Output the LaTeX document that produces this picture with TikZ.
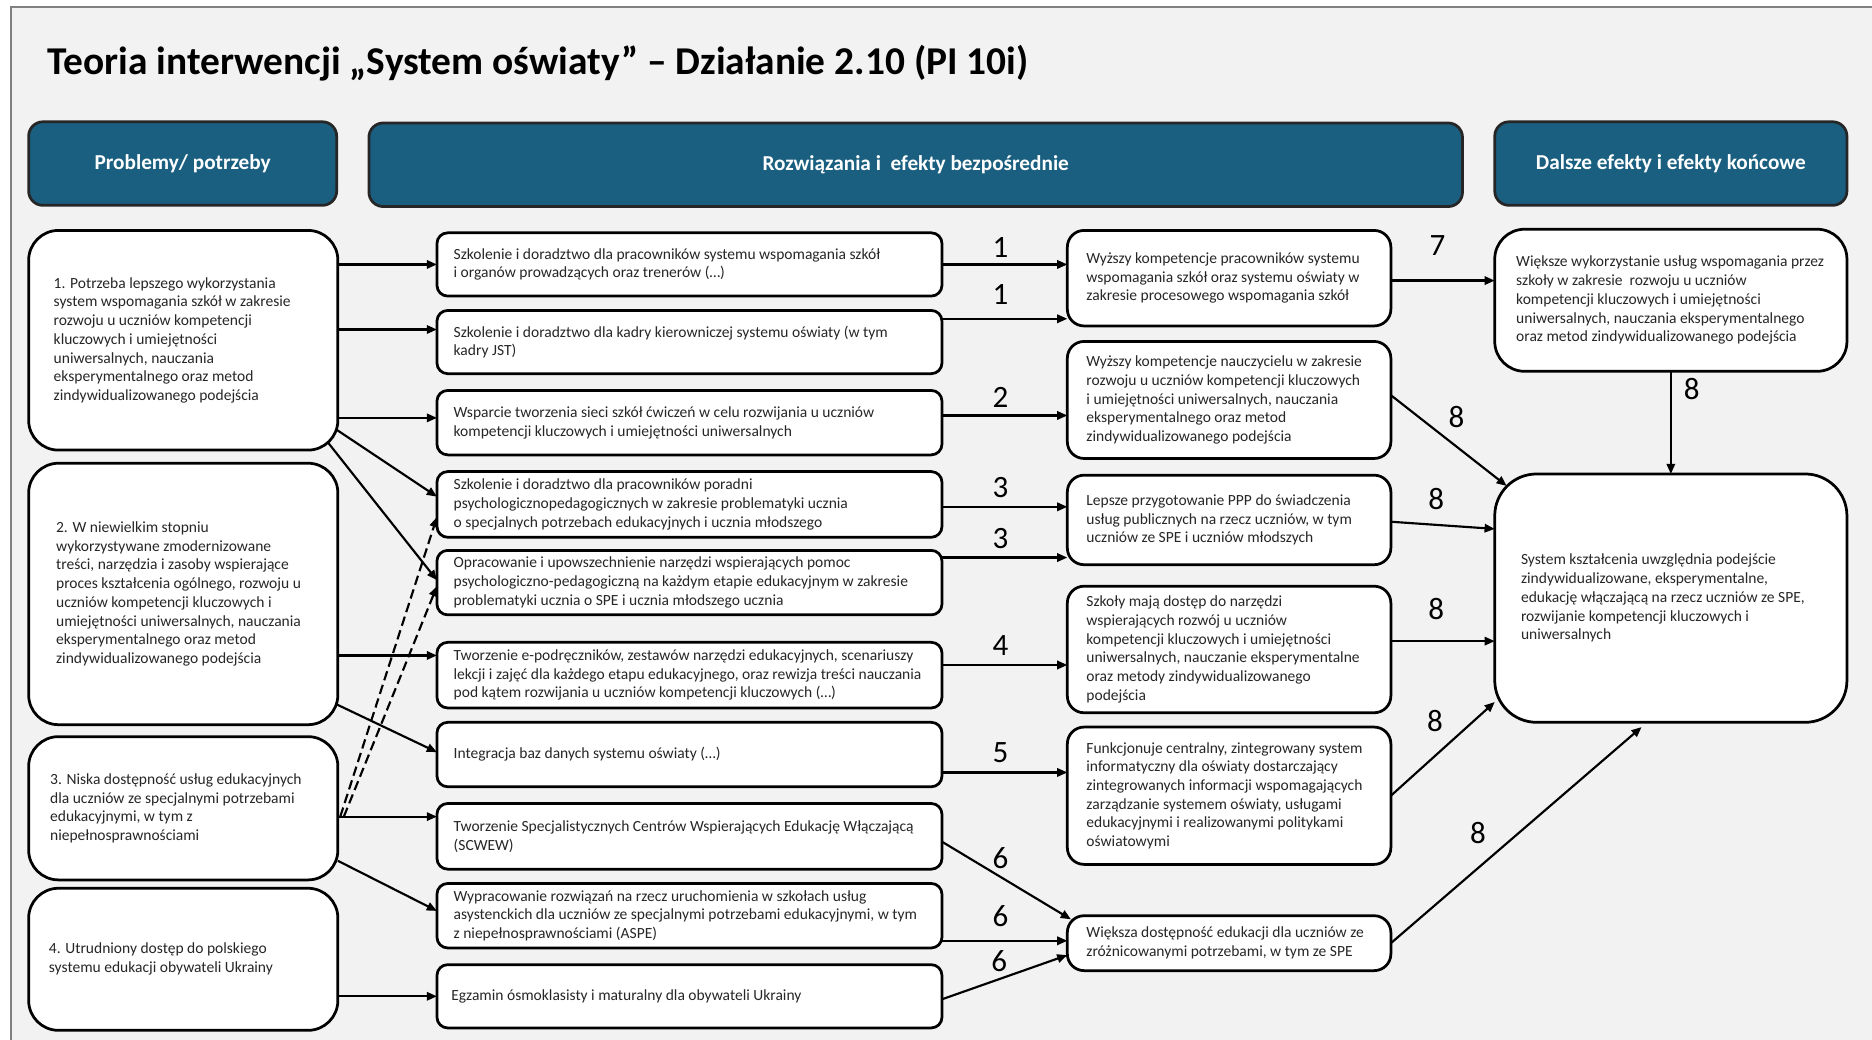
\documentclass[tikz,border=0pt]{standalone}
\usepackage{fontspec}
\setmainfont{Carlito}
\usetikzlibrary{arrows.meta,calc}

\definecolor{pagebg}{HTML}{F2F2F2}
\definecolor{headfill}{HTML}{1A5F80}
\definecolor{framegray}{HTML}{808080}
\definecolor{inkgray}{HTML}{262626}

\begin{document}
\begin{tikzpicture}[x=1pt,y=-1pt,
  every node/.style={inner sep=0pt, outer sep=0pt},
  boxbase/.style={draw=black, fill=white, line width=2.3pt},
  probbox/.style={boxbase, rounded corners=25pt, minimum width=259pt},
  actbox/.style={boxbase, rounded corners=9pt, minimum width=423pt},
  effbox/.style={boxbase, rounded corners=14pt, minimum width=271pt},
  finbox/.style={boxbase, minimum width=295pt},
  headbox/.style={draw=black!85, fill=headfill, line width=2.3pt, rounded corners=12pt,
    minimum height=70pt, text=white, font=\fontsize{17.8}{21}\selectfont\bfseries},
  bodytext/.style={align=left, text=inkgray, font=\fontsize{13}{15.7}\selectfont},
  num/.style={font=\fontsize{26}{28}\selectfont, text=black},
  arr/.style={line width=1.8pt, -{Triangle[length=8.5pt,width=7pt]}},
  dasharr/.style={arr, dash pattern=on 8pt off 4pt},
]
\useasboundingbox (0,0) rectangle (1568,871);

% page background with its frame on the top and left
\fill[white] (0,0) rectangle (1568,871);
\fill[pagebg] (9,6) rectangle (1568,871);
\draw[framegray, line width=2pt] (9,871) -- (9,6) -- (1568,6);

% title
\node[anchor=base west, font=\fontsize{33}{36}\selectfont\bfseries, text=black] (title) at (40,62)
  {Teoria interwencji „System oświaty” – Działanie 2.10 (PI 10i)};

% column headers
\node[headbox, minimum width=258pt] (h1) at (153,137) {Problemy/ potrzeby};
\node[headbox, minimum width=916pt] (h2) at (767,138) {Rozwiązania i\ \ efekty bezpośrednie};
\node[headbox, minimum width=295pt] (h3) at (1399.5,137) {Dalsze efekty i efekty końcowe};

% problems / needs
\node[probbox, minimum height=184pt] (p1) at (153.5,285) {};
\node[bodytext, anchor=west] (p1t) at ($(p1.west)+(21,0)$) {1. Potrzeba lepszego wykorzystania\\system wspomagania szkół w zakresie\\rozwoju u uczniów kompetencji\\kluczowych i umiejętności\\uniwersalnych, nauczania\\eksperymentalnego oraz metod\\zindywidualizowanego podejścia};
\node[probbox, minimum height=219pt] (p2) at (153.5,497.5) {};
\node[bodytext, anchor=west] (p2t) at ($(p2.west)+(23,0)$) {2. W niewielkim stopniu\\wykorzystywane zmodernizowane\\treści, narzędzia i zasoby wspierające\\proces kształcenia ogólnego, rozwoju u\\uczniów kompetencji kluczowych i\\umiejętności uniwersalnych, nauczania\\eksperymentalnego oraz metod\\zindywidualizowanego podejścia};
\node[probbox, minimum height=120pt] (p3) at (153.5,677) {};
\node[bodytext, anchor=west] (p3t) at ($(p3.west)+(18,0)$) {3. Niska dostępność usług edukacyjnych\\dla uczniów ze specjalnymi potrzebami\\edukacyjnymi, w tym z\\niepełnosprawnościami};
\node[probbox, minimum height=119pt] (p4) at (153.5,803.5) {};
\node[bodytext, anchor=west] (p4t) at ($(p4.west)+(17,0)$) {4. Utrudniony dostęp do polskiego\\systemu edukacji obywateli Ukrainy};

% actions
\node[actbox, minimum height=53pt] (m1) at (577.5,221.5) {};
\node[bodytext, anchor=west] (m1t) at ($(m1.west)+(14,0)$) {Szkolenie i doradztwo dla pracowników systemu wspomagania szkół\\i organów prowadzących oraz trenerów (…)};
\node[actbox, minimum height=53pt] (m2) at (577.5,286.5) {};
\node[bodytext, anchor=west] (m2t) at ($(m2.west)+(14,0)$) {Szkolenie i doradztwo dla kadry kierowniczej systemu oświaty (w tym\\kadry JST)};
\node[actbox, minimum height=54pt] (m3) at (577.5,354) {};
\node[bodytext, anchor=west] (m3t) at ($(m3.west)+(14,0)$) {Wsparcie tworzenia sieci szkół ćwiczeń w celu rozwijania u uczniów\\kompetencji kluczowych i umiejętności uniwersalnych};
\node[actbox, minimum height=55pt] (m4) at (577.5,422.5) {};
\node[bodytext, anchor=west] (m4t) at ($(m4.west)+(14,0)$) {Szkolenie i doradztwo dla pracowników poradni\\psychologicznopedagogicznych w zakresie problematyki ucznia\\o specjalnych potrzebach edukacyjnych i ucznia młodszego};
\node[actbox, minimum height=54pt] (m5) at (577.5,488) {};
\node[bodytext, anchor=west] (m5t) at ($(m5.west)+(14,0)$) {Opracowanie i upowszechnienie narzędzi wspierających pomoc\\psychologiczno-pedagogiczną na każdym etapie edukacyjnym w zakresie\\problematyki ucznia o SPE i ucznia młodszego ucznia};
\node[actbox, minimum height=55pt] (m6) at (577.5,565.5) {};
\node[bodytext, anchor=west] (m6t) at ($(m6.west)+(14,0)$) {Tworzenie e-podręczników, zestawów narzędzi edukacyjnych, scenariuszy\\lekcji i zajęć dla każdego etapu edukacyjnego, oraz rewizja treści nauczania\\pod kątem rozwijania u uczniów kompetencji kluczowych (…)};
\node[actbox, minimum height=54pt] (m7) at (577.5,632) {};
\node[bodytext, anchor=west] (m7t) at ($(m7.west)+(14,0)$) {Integracja baz danych systemu oświaty (…)};
\node[actbox, minimum height=55pt] (m8) at (577.5,700.5) {};
\node[bodytext, anchor=west] (m8t) at ($(m8.west)+(14,0)$) {Tworzenie Specjalistycznych Centrów Wspierających Edukację Włączającą\\(SCWEW)};
\node[actbox, minimum height=54pt] (m9) at (577.5,767) {};
\node[bodytext, anchor=west] (m9t) at ($(m9.west)+(14,0)$) {Wypracowanie rozwiązań na rzecz uruchomienia w szkołach usług\\asystenckich dla uczniów ze specjalnymi potrzebami edukacyjnymi, w tym\\z niepełnosprawnościami (ASPE)};
\node[actbox, minimum height=53pt] (m10) at (577.5,834.5) {};
\node[bodytext, anchor=west] (m10t) at ($(m10.west)+(12,0)$) {Egzamin ósmoklasisty i maturalny dla obywateli Ukrainy};

% direct effects
\node[effbox, minimum height=80pt] (r1) at (1029.5,233) {};
\node[bodytext, anchor=west] (r1t) at ($(r1.west)+(16,0)$) {Wyższy kompetencje pracowników systemu\\wspomagania szkół oraz systemu oświaty w\\zakresie procesowego wspomagania szkół};
\node[effbox, minimum height=98pt] (r2) at (1029.5,335) {};
\node[bodytext, anchor=west] (r2t) at ($(r2.west)+(16,0)$) {Wyższy kompetencje nauczycielu w zakresie\\rozwoju u uczniów kompetencji kluczowych\\i umiejętności uniwersalnych, nauczania\\eksperymentalnego oraz metod\\zindywidualizowanego podejścia};
\node[effbox, minimum height=75pt] (r3) at (1029.5,435.5) {};
\node[bodytext, anchor=west] (r3t) at ($(r3.west)+(16,0)$) {Lepsze przygotowanie PPP do świadczenia\\usług publicznych na rzecz uczniów, w tym\\uczniów ze SPE i uczniów młodszych};
\node[effbox, minimum height=106pt] (r4) at (1029.5,544) {};
\node[bodytext, anchor=west] (r4t) at ($(r4.west)+(16,0)$) {Szkoły mają dostęp do narzędzi\\wspierających rozwój u uczniów\\kompetencji kluczowych i umiejętności\\uniwersalnych, nauczanie eksperymentalne\\oraz metody zindywidualizowanego\\podejścia};
\node[effbox, minimum height=115pt] (r5) at (1029.5,666.5) {};
\node[bodytext, anchor=west] (r5t) at ($(r5.west)+(16,0)$) {Funkcjonuje centralny, zintegrowany system\\informatyczny dla oświaty dostarczający\\zintegrowanych informacji wspomagających\\zarządzanie systemem oświaty, usługami\\edukacyjnymi i realizowanymi politykami\\oświatowymi};
\node[effbox, minimum height=46pt] (r6) at (1029.5,790) {};
\node[bodytext, anchor=west] (r6t) at ($(r6.west)+(16,0)$) {Większa dostępność edukacji dla uczniów ze\\zróżnicowanymi potrzebami, w tym ze SPE};

% further and final effects
\node[finbox, rounded corners=25pt, minimum height=119pt] (f1) at (1399.5,251.5) {};
\node[bodytext, anchor=west] (f1t) at ($(f1.west)+(18,0)$) {Większe wykorzystanie usług wspomagania przez\\szkoły w zakresie\ \ rozwoju u uczniów\\kompetencji kluczowych i umiejętności\\uniwersalnych, nauczania eksperymentalnego\\oraz metod zindywidualizowanego podejścia};
\node[finbox, rounded corners=35pt, minimum height=208pt] (f2) at (1399.5,501) {};
\node[bodytext, anchor=west] (f2t) at ($(f2.west)+(22,0)$) {System kształcenia uwzględnia podejście\\zindywidualizowane, eksperymentalne,\\edukację włączającą na rzecz uczniów ze SPE,\\rozwijanie kompetencji kluczowych i\\uniwersalnych};

% problems -> actions
\draw[arr] (p1.east |- m1.west) -- (m1.west);
\coordinate (m2in) at ($(m2.west)+(0,-10.5)$);
\draw[arr] (p1.east |- m2in) -- (m2in);
\coordinate (m3in) at ($(m3.west)+(0,-4)$);
\draw[arr] (p1.east |- m3in) -- (m3in);
\draw[arr] ($(p1.east)+(-1,75)$) -- ($(m4.west)+(0,-6.5)$);
\draw[arr] ($(p1.east)+(-8,86)$) -- ($(m5.west)+(0,-2)$);
\coordinate (m6in) at ($(m6.west)+(0,-16.5)$);
\draw[arr] (p2.east |- m6in) -- (m6in);
\draw[arr] ($(p2.east)+(-1,92.5)$) -- ($(m7.west)+(0,-2)$);
\coordinate (m8in) at ($(m8.west)+(0,-16.5)$);
\draw[arr] (p3.east |- m8in) -- (m8in);
\draw[arr] ($(p3.east)+(0,44)$) -- ($(m9.west)+(0,-4)$);
\draw[dasharr] ($(p3.east)+(2,7)$) -- ($(m4.west)+(0,10.5)$);
\draw[dasharr] ($(p3.east)+(5,7)$) -- ($(m5.west)+(0,3)$);
\draw[arr] (p4.east |- m10.west) -- (m10.west);

% actions -> direct effects
\draw[arr] (m1.east) -- (r1.west |- m1.east);
\coordinate (m2out) at ($(m2.east)+(0,-19.5)$);
\draw[arr] (m2out) -- (r1.west |- m2out);
\coordinate (m3out) at ($(m3.east)+(0,-6)$);
\draw[arr] (m3out) -- (r2.west |- m3out);
\coordinate (m4out) at ($(m4.east)+(0,2)$);
\draw[arr] (m4out) -- (r3.west |- m4out);
\coordinate (m5out) at ($(m5.east)+(0,-21)$);
\draw[arr] (m5out) -- (r3.west |- m5out);
\coordinate (m6out) at ($(m6.east)+(0,-8.5)$);
\draw[arr] (m6out) -- (r4.west |- m6out);
\coordinate (m7out) at ($(m7.east)+(0,15)$);
\draw[arr] (m7out) -- (r5.west |- m7out);
\draw[arr] ($(m8.east)+(0,4.5)$) -- ($(r6.north west)+(3,3)$);
\coordinate (m9out) at ($(m9.east)+(0,21)$);
\draw[arr] (m9out) -- (r6.west |- m9out);
\draw[arr] ($(m10.east)+(0,2.5)$) -- ($(r6.west)+(0,10)$);

% direct effects -> further and final effects
\coordinate (r1out) at ($(r1.east)+(0,2)$);
\draw[arr] (r1out) -- (f1.west |- r1out);
\draw[arr] ($(r2.east)+(0,-4)$) -- ($(f2.north west)+(10,10)$);
\draw[arr] ($(r3.east)+(0,1.5)$) -- ($(f2.west)+(0,-58)$);
\coordinate (r4out) at ($(r4.east)+(0,-7)$);
\draw[arr] (r4out) -- (f2.west |- r4out);
\draw[arr] (r5.east) -- ($(f2.west)+(0,87)$);
\draw[arr] (r6.east) -- ($(f2.south)+(-24.5,4)$);
\draw[arr] (f1.south) -- (f2.north);

% connector numbers
\node[num] (n1a) at (838,207) {1};
\node[num] (n1b) at (838,247) {1};
\node[num] (n2) at (838,333) {2};
\node[num] (n3a) at (838,408) {3};
\node[num] (n3b) at (838,451) {3};
\node[num] (n4) at (838,541) {4};
\node[num] (n5) at (838,630) {5};
\node[num] (n6a) at (838,719) {6};
\node[num] (n6b) at (838,767) {6};
\node[num] (n6c) at (837,805) {6};
\node[num] (n7) at (1204,206) {7};
\node[num] (n8a) at (1220,349) {8};
\node[num] (n8b) at (1203,418) {8};
\node[num] (n8c) at (1203,510) {8};
\node[num] (n8d) at (1202,604) {8};
\node[num] (n8e) at (1238,698) {8};
\node[num] (n8f) at (1417,326) {8};
\end{tikzpicture}
\end{document}
